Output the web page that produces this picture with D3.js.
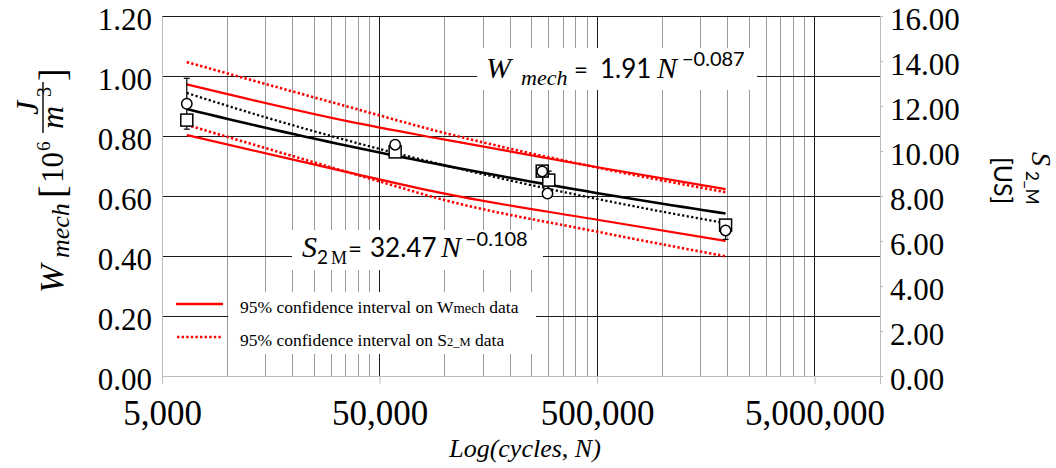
<!DOCTYPE html>
<html><head><meta charset="utf-8">
<script src="https://cdn.jsdelivr.net/npm/d3@7"></script>
<style>
html,body{margin:0;padding:0;background:#fff;}
svg{display:block}
</style>
</head><body>
<svg id="chart" width="1056" height="468"></svg>
<script>
// Specimen results: circles on the S2_M axis, squares on the Wmech axis
const circleCycles = [6500, 59000, 280000, 296000, 1950000];
const circleS2M    = [12.10, 10.28, 9.09, 8.11, 6.47];
const circleErr    = [1.13, 0, 0, 0, 0.40];
const squareCycles = [6500, 59000, 300000, 280000, 1950000];
const squareWmech  = [0.853, 0.747, 0.653, 0.683, 0.503];
const squareErr    = [0, 0.012, 0.03, 0, 0];

// Power-law trend lines: value = coef * N^exponent
const fitCoef  = [1.91, 32.47];
const fitExp   = [-0.087, -0.108];
const fitStart = [6500, 6500];
const fitEnd   = [1950000, 1850000];

// 95% confidence bands
const wBandCycles = [6500, 36400, 94300, 510000, 1950000];
const wBandUpper  = [0.972, 0.848, 0.791, 0.695, 0.623];
const wBandLower  = [0.803, 0.678, 0.611, 0.520, 0.450];
const sUpperCycles = [6500, 36400, 94300, 510000, 1950000];
const sBandUpper   = [13.95, 11.95, 10.86, 9.25, 8.17];
const sLowerCycles = [6500, 51600, 94300, 510000, 1950000];
const sBandLower   = [11.16, 8.61, 7.88, 6.40, 5.32];

// Axis ticks
const xMajorTicks = [5000, 50000, 500000, 5000000];
const leftTicks  = [0, 0.2, 0.4, 0.6, 0.8, 1.0, 1.2];
const rightTicks = [0, 2, 4, 6, 8, 10, 12, 14, 16];

const svg = d3.select("#chart");
const L = 162, R = 880, T = 16, B = 376;

const x  = d3.scaleLog().domain([5000, 1e7]).range([L, R]);
const yL = d3.scaleLinear().domain([0, 1.2]).range([B, T]);
const yR = d3.scaleLinear().domain([0, 16]).range([B, T]);

const serif = "'Liberation Serif','Times New Roman',serif";
const sans  = "Lato,'Liberation Sans',Arial,sans-serif";

// minor vertical gridlines at 2..9 times each decade start
const xMinor = [];
xMajorTicks.forEach(d => { for (let k = 2; k <= 9; k++) { const v = d * k; if (v < 1e7) xMinor.push(v); } });

const grid = svg.append("g");
grid.selectAll(".vminor").data(xMinor).join("line")
  .attr("x1", d => x(d)).attr("x2", d => x(d)).attr("y1", T).attr("y2", B)
  .attr("stroke", "#9a9a9a").attr("stroke-width", 1).attr("shape-rendering", "crispEdges");
grid.selectAll(".vmajor").data(xMajorTicks.slice(1)).join("line")
  .attr("x1", d => x(d)).attr("x2", d => x(d)).attr("y1", T).attr("y2", B)
  .attr("stroke", "#1a1a1a").attr("stroke-width", 1).attr("shape-rendering", "crispEdges");
grid.selectAll(".hmajor").data(leftTicks.slice(1)).join("line")
  .attr("x1", L).attr("x2", R).attr("y1", d => yL(d)).attr("y2", d => yL(d))
  .attr("stroke", "#1a1a1a").attr("stroke-width", 1).attr("shape-rendering", "crispEdges");

// Axes
const axisStyle = (g, size, dy) => {
  g.select(".domain").attr("stroke", "#bdbdbd");
  g.selectAll(".tick line").attr("stroke", "#bdbdbd");
  g.selectAll("text").attr("font-family", serif).attr("font-size", size).attr("fill", "#000");
  if (dy) g.selectAll("text").attr("dy", dy);
};
svg.append("g").attr("transform", `translate(${L},0)`)
  .call(d3.axisLeft(yL).tickValues(leftTicks).tickFormat(d3.format(".2f")).tickSize(0).tickPadding(10))
  .call(g => axisStyle(g, 31, "0.42em"));
svg.append("g").attr("transform", `translate(${R},0)`)
  .call(d3.axisRight(yR).tickValues(rightTicks).tickFormat(d3.format(".2f")).tickSize(3).tickPadding(7))
  .call(g => axisStyle(g, 31, "0.42em"));
svg.append("g").attr("transform", `translate(0,${B})`)
  .call(d3.axisBottom(x).tickValues(xMajorTicks).tickFormat(d3.format(",")).tickSize(8).tickPadding(16))
  .call(g => axisStyle(g, 35));

// White label boxes over the grid
svg.append("rect").attr("x", 477).attr("y", 48).attr("width", 280).attr("height", 42).attr("fill", "#fff");
svg.append("rect").attr("x", 292).attr("y", 230).attr("width", 251).attr("height", 40).attr("fill", "#fff");
svg.append("rect").attr("x", 228).attr("y", 292).attr("width", 308).attr("height", 62).attr("fill", "#fff");

// Confidence bands
const bandLine = (cycles, yScale) => d3.line()
  .x((d, i) => x(cycles[i])).y(d => yScale(d)).curve(d3.curveMonotoneX);
const red = "#ff0000";
[wBandUpper, wBandLower].forEach(arr => {
  svg.append("path").attr("d", bandLine(wBandCycles, yL)(arr))
    .attr("fill", "none").attr("stroke", red).attr("stroke-width", 2.2);
});
svg.append("path").attr("d", bandLine(sUpperCycles, yR)(sBandUpper))
  .attr("fill", "none").attr("stroke", red).attr("stroke-width", 2.6).attr("stroke-dasharray", "2.4,2.2");
svg.append("path").attr("d", bandLine(sLowerCycles, yR)(sBandLower))
  .attr("fill", "none").attr("stroke", red).attr("stroke-width", 2.6).attr("stroke-dasharray", "2.4,2.2");

// Trend lines from the fitted equations
const fitPoints = i => d3.range(0, 1.0001, 0.02).map(t => {
  const n = fitStart[i] * Math.pow(fitEnd[i] / fitStart[i], t);
  return [n, fitCoef[i] * Math.pow(n, fitExp[i])];
});
svg.append("path")
  .attr("d", d3.line().x(d => x(d[0])).y(d => yL(d[1]))(fitPoints(0)))
  .attr("fill", "none").attr("stroke", "#000").attr("stroke-width", 2.6);
svg.append("path")
  .attr("d", d3.line().x(d => x(d[0])).y(d => yR(d[1]))(fitPoints(1)))
  .attr("fill", "none").attr("stroke", "#000").attr("stroke-width", 2.3).attr("stroke-dasharray", "2.2,2.4");

// Error bars
const errBar = (g, cx, cy, lo, hi) => {
  g.append("line").attr("x1", cx).attr("x2", cx).attr("y1", lo).attr("y2", hi).attr("stroke", "#000").attr("stroke-width", 1.2);
  [lo, hi].forEach(v => g.append("line").attr("x1", cx - 3).attr("x2", cx + 3).attr("y1", v).attr("y2", v).attr("stroke", "#000").attr("stroke-width", 1.2));
};
const eb = svg.append("g");
squareWmech.forEach((v, i) => { if (squareErr[i] > 0) errBar(eb, x(squareCycles[i]), yL(v), yL(v - squareErr[i]), yL(v + squareErr[i])); });
circleS2M.forEach((v, i) => { if (circleErr[i] > 0) errBar(eb, x(circleCycles[i]), yR(v), yR(v - circleErr[i]), yR(v + circleErr[i])); });

// Markers
const sq = 12;
svg.append("g").selectAll("rect").data(squareWmech).join("rect")
  .attr("x", (d, i) => x(squareCycles[i]) - sq / 2).attr("y", d => yL(d) - sq / 2)
  .attr("width", sq).attr("height", sq)
  .attr("fill", "#fff").attr("stroke", "#000").attr("stroke-width", 1.5);
svg.append("g").selectAll("circle").data(circleS2M).join("circle")
  .attr("cx", (d, i) => x(circleCycles[i])).attr("cy", d => yR(d)).attr("r", 5.2)
  .attr("fill", "#fff").attr("stroke", "#000").attr("stroke-width", 1.5);

// Fit equations
const put = (txt, px, py, size, family, style) => svg.append("text").attr("x", px).attr("y", py)
  .attr("font-size", size).attr("font-family", family).attr("font-style", style || "normal").text(txt);
put("W", 486, 78, 30, serif, "italic");
put("mech", 521, 85, 22, serif, "italic");
put("=", 574, 78, 24, sans);
put("1.91", 600, 78, 26, sans);
put("N", 657, 78, 30, serif, "italic");
put("\u22120.087", 682, 66, 20, sans);

put("S", 302, 257, 30, serif, "italic");
put("2", 317, 264, 19, sans);
put("M", 331, 264, 18, serif);
put("=", 348, 257, 24, sans);
put("32.47", 370, 257, 26, sans);
put("N", 441, 257, 30, serif, "italic");
put("\u22120.108", 465, 246, 20, sans);

// Legend
svg.append("line").attr("x1", 176).attr("x2", 223).attr("y1", 304).attr("y2", 304)
  .attr("stroke", red).attr("stroke-width", 2.6);
svg.append("line").attr("x1", 177).attr("x2", 223).attr("y1", 337).attr("y2", 337)
  .attr("stroke", red).attr("stroke-width", 2.6).attr("stroke-dasharray", "2.4,2.2");
const lg1 = svg.append("text").attr("x", 240).attr("y", 313).attr("font-family", serif).attr("font-size", 17.5);
lg1.append("tspan").text("95% confidence interval on W");
lg1.append("tspan").attr("font-size", 14.5).text("mech");
lg1.append("tspan").text(" data");
const lg2 = svg.append("text").attr("x", 240).attr("y", 346).attr("font-family", serif).attr("font-size", 17.5);
lg2.append("tspan").text("95% confidence interval on S");
lg2.append("tspan").attr("font-size", 12.5).text("2_M");
lg2.append("tspan").text(" data");

// Left axis title (rotated)
const lt = svg.append("g").attr("transform", "translate(63,293) rotate(-90)");
const tp = (g, txt, px, py, size, family, style, anchor) => g.append("text").attr("x", px).attr("y", py)
  .attr("font-size", size).attr("font-family", family).attr("font-style", style || "normal")
  .attr("text-anchor", anchor || "start").text(txt);
tp(lt, "W", 0, 0, 34, serif, "italic");
tp(lt, "mech", 35, 6, 26, serif, "italic");
tp(lt, "[", 95, 2, 38, serif);
tp(lt, "10", 110, 0, 31, serif);
tp(lt, "6", 142, -13, 19, serif);
lt.append("line").attr("x1", 160).attr("x2", 211).attr("y1", -20).attr("y2", -20).attr("stroke", "#000").attr("stroke-width", 1.4);
tp(lt, "J", 185, -25, 32, serif, "italic", "middle");
tp(lt, "m", 164, 0, 32, serif, "italic");
tp(lt, "3", 196, -12, 20, serif);
tp(lt, "]", 212, 2, 38, serif);

// Right axis title (rotated, two lines)
const rt1 = svg.append("g").attr("transform", "translate(1032,152) rotate(90)");
tp(rt1, "S", 0, 0, 28, serif, "italic");
tp(rt1, "2_M", 19, 6, 17, sans);
const rt2 = svg.append("g").attr("transform", "translate(994,157) rotate(90)");
tp(rt2, "[US]", 0, 0, 25, sans);

// X axis title
svg.append("text").attr("x", 525).attr("y", 457).attr("text-anchor", "middle")
  .attr("font-family", serif).attr("font-style", "italic").attr("font-size", 26).text("Log(cycles, N)");
</script>
</body></html>
